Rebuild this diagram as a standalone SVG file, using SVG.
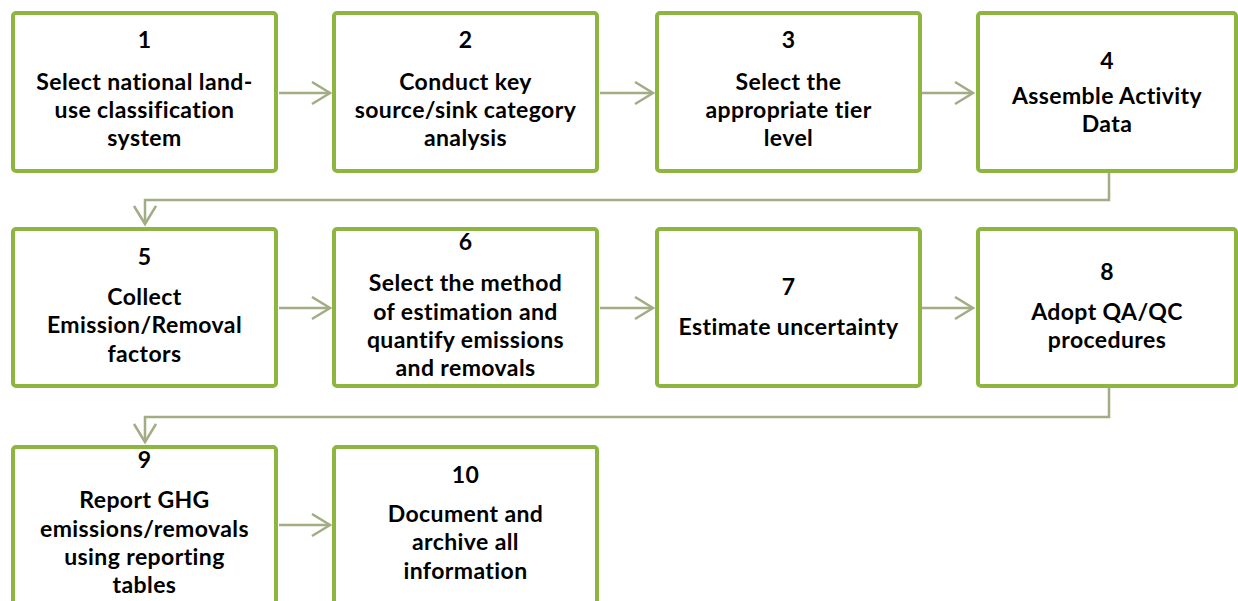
<svg xmlns="http://www.w3.org/2000/svg" width="1238" height="601" viewBox="0 0 1238 601">
<defs>
<style>
.box{fill:#ffffff;stroke:#8db540;stroke-width:4;}
.t{font-family:Lato,"Liberation Sans",sans-serif;font-weight:bold;font-size:23px;letter-spacing:0.4px;fill:#000;text-anchor:middle;}
.c{fill:none;stroke:#a2ad85;stroke-width:2.5;}
</style>
<marker id="ah" markerWidth="22" markerHeight="26" refX="19" refY="12" orient="auto" markerUnits="userSpaceOnUse">
<path d="M1,1 L19,12 L1,23" fill="none" stroke="#a2ad85" stroke-width="2.5"/>
</marker>
</defs>
<rect width="1238" height="601" fill="#fff"/>
<g id="connectors">
<line class="c" x1="279" y1="93" x2="330" y2="93" marker-end="url(#ah)"/>
<line class="c" x1="600" y1="93" x2="653" y2="93" marker-end="url(#ah)"/>
<line class="c" x1="922" y1="93" x2="973" y2="93" marker-end="url(#ah)"/>
<polyline class="c" points="1109,173 1109,200 145,200 145,224" marker-end="url(#ah)"/>
<line class="c" x1="279" y1="308" x2="330" y2="308" marker-end="url(#ah)"/>
<line class="c" x1="600" y1="308" x2="653" y2="308" marker-end="url(#ah)"/>
<line class="c" x1="922" y1="308" x2="973" y2="308" marker-end="url(#ah)"/>
<polyline class="c" points="1109,388 1109,417 145,417 145,442" marker-end="url(#ah)"/>
<line class="c" x1="279" y1="525" x2="330" y2="525" marker-end="url(#ah)"/>
</g>
<g id="node1"><rect class="box" x="13" y="13" width="263" height="158" rx="3"/>
<text class="t" x="144.5" y="48">1</text>
<text class="t" x="144.5" y="90">Select national land-</text>
<text class="t" x="144.5" y="118">use classification</text>
<text class="t" x="144.5" y="146">system</text></g>
<g id="node2"><rect class="box" x="334" y="13" width="263" height="158" rx="3"/>
<text class="t" x="465.5" y="48">2</text>
<text class="t" x="465.5" y="90">Conduct key</text>
<text class="t" x="465.5" y="118">source/sink category</text>
<text class="t" x="465.5" y="146">analysis</text></g>
<g id="node3"><rect class="box" x="657" y="13" width="263" height="158" rx="3"/>
<text class="t" x="788.5" y="48">3</text>
<text class="t" x="788.5" y="90">Select the</text>
<text class="t" x="788.5" y="118">appropriate tier</text>
<text class="t" x="788.5" y="146">level</text></g>
<g id="node4"><rect class="box" x="978" y="13" width="258" height="158" rx="3"/>
<text class="t" x="1107" y="69">4</text>
<text class="t" x="1107" y="104">Assemble Activity</text>
<text class="t" x="1107" y="132">Data</text></g>
<g id="node5"><rect class="box" x="13" y="229" width="263" height="157" rx="3"/>
<text class="t" x="144.5" y="265">5</text>
<text class="t" x="144.5" y="305">Collect</text>
<text class="t" x="144.5" y="333">Emission/Removal</text>
<text class="t" x="144.5" y="362">factors</text></g>
<g id="node6"><rect class="box" x="334" y="229" width="263" height="157" rx="3"/>
<text class="t" x="465.5" y="250">6</text>
<text class="t" x="465.5" y="291">Select the method</text>
<text class="t" x="465.5" y="320">of estimation and</text>
<text class="t" x="465.5" y="348">quantify emissions</text>
<text class="t" x="465.5" y="376">and removals</text></g>
<g id="node7"><rect class="box" x="657" y="229" width="263" height="157" rx="3"/>
<text class="t" x="788.5" y="295">7</text>
<text class="t" x="788.5" y="335">Estimate uncertainty</text></g>
<g id="node8"><rect class="box" x="978" y="229" width="258" height="157" rx="3"/>
<text class="t" x="1107" y="280">8</text>
<text class="t" x="1107" y="320">Adopt QA/QC</text>
<text class="t" x="1107" y="348">procedures</text></g>
<g id="node9"><rect class="box" x="13" y="447" width="263" height="160" rx="3"/>
<text class="t" x="144.5" y="468">9</text>
<text class="t" x="144.5" y="508">Report GHG</text>
<text class="t" x="144.5" y="537">emissions/removals</text>
<text class="t" x="144.5" y="565">using reporting</text>
<text class="t" x="144.5" y="593">tables</text></g>
<g id="node10"><rect class="box" x="334" y="447" width="263" height="160" rx="3"/>
<text class="t" x="465.5" y="483">10</text>
<text class="t" x="465.5" y="522">Document and</text>
<text class="t" x="465.5" y="550">archive all</text>
<text class="t" x="465.5" y="579">information</text></g>
</svg>
